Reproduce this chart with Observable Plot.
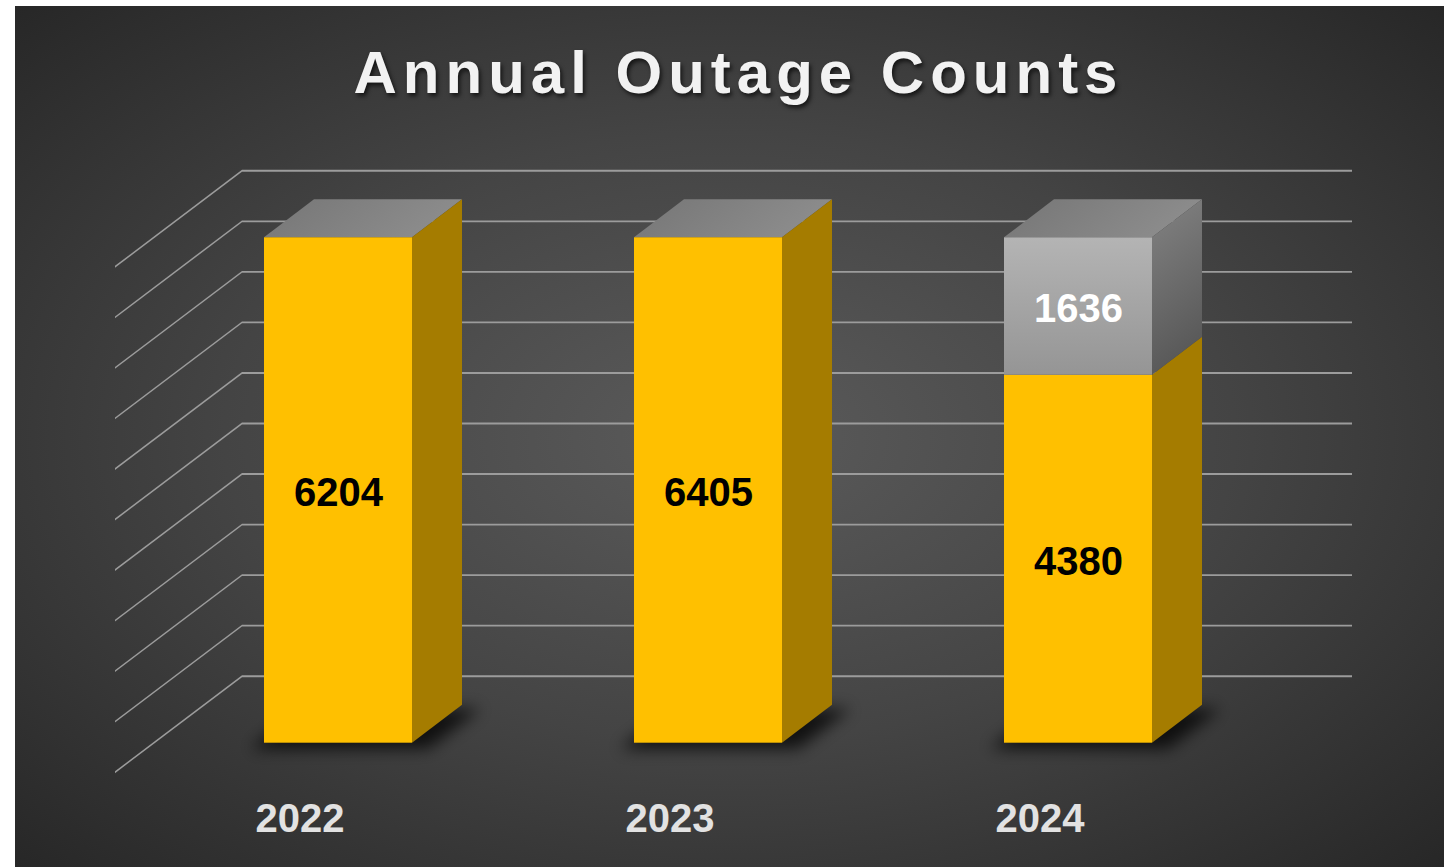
<!DOCTYPE html>
<html>
<head>
<meta charset="utf-8">
<script src="https://cdn.jsdelivr.net/npm/d3@7"></script>
<script src="https://cdn.jsdelivr.net/npm/@observablehq/plot@0.6"></script>
<style>
  html, body { margin: 0; padding: 0; background: #ffffff; }
  #panel {
    position: absolute; left: 15px; top: 6px; width: 1429px; height: 861px; overflow: hidden;
    background: radial-gradient(ellipse farthest-corner at 50% 50%, #5b5b5b 0%, #444444 50%, #272727 100%);
  }
  #title {
    position: absolute; top: 37px; left: 9px; width: 100%; text-align: center;
    font-family: "Liberation Sans", Arial, sans-serif; font-weight: bold; font-size: 60px;
    line-height: 60px; letter-spacing: 6px; color: #f2f2f2;
    text-shadow: 2px 3px 4px rgba(0,0,0,0.65);
  }
  #chart { position: absolute; left: 0; top: 120px; }
</style>
</head>
<body>
<div id="panel">
  <div id="title">Annual Outage Counts</div>
  <div id="chart"></div>
</div>
<script>
// ---- data ----
const years = ["2022", "2023", "2024"];
const outageCounts = [6204, 6405, 4380];
const additionalCounts = [0, 0, 1636];
const seriesNames = ["Outages", "Additional"];
const gridTicks = [0, 0.1, 0.2, 0.3, 0.4, 0.5, 0.6, 0.7, 0.8, 0.9, 1];

// ---- layout / style ----
const W = 1429, H = 741;
const mL = 138.4, mR = 180.6, mT = 111.3, mB = 124.3;
const padInner = 0.6, padOuter = 0.3;
const frameW = W - mL - mR;
const step = frameW / (years.length - padInner + 2 * padOuter);
const bw = step * (1 - padInner);
const depthX = 50, depthY = 38;          // bar depth (perspective)
const wallX = 88.6, wallY = 67;          // back wall offset
const floorX = 38.4, floorY = 29;        // floor front offset
const font = "'Liberation Sans', Arial, sans-serif";
const gridColor = "#9c9c9c";

const table = years.flatMap((year, i) => [
  {year, series: seriesNames[0], value: outageCounts[i]},
  {year, series: seriesNames[1], value: additionalCounts[i]}
]);
const isBase = d => d.series === seriesNames[0];
const stacked = o => Plot.stackY({x: "year", y: "value", z: "series", offset: "normalize", ...o});

const marks = [
  // back wall gridlines
  Plot.ruleY(gridTicks, {dx: wallX, dy: -wallY, stroke: gridColor, strokeWidth: 1.9}),
  // side wall diagonals
  Plot.ruleY(gridTicks, {dx: -floorX, dy: floorY, insetRight: frameW - (wallX + floorX), stroke: gridColor, strokeWidth: 1.9}),
  // floor shadow
  Plot.barY(years, {x: d => d, y1: () => 0, y2: () => 0, insetTop: -depthY + 4, insetBottom: -6, insetLeft: -14, insetRight: -16, fill: "black", fillOpacity: 0.75}),
  // top faces
  Plot.barY(years, {x: d => d, y1: () => 1, y2: () => 1, insetTop: -depthY, fill: "url(#gTop)"}),
  // front faces
  Plot.barY(table, stacked({fill: d => isBase(d) ? "#FFC000" : "url(#gFront)"})),
  // side faces
  Plot.barY(table, stacked({fill: d => isBase(d) ? "#A57C00" : "url(#gSide)", insetLeft: bw, insetRight: -depthX})),
  // value labels
  Plot.text(table, stacked({text: d => isBase(d) && d.value ? String(d.value) : "", dy: 3, fill: "#000000", fontSize: 40, fontWeight: "bold", fontFamily: font})),
  Plot.text(table, stacked({text: d => !isBase(d) && d.value ? String(d.value) : "", dy: 3, fill: "#ffffff", fontSize: 40, fontWeight: "bold", fontFamily: font})),
  // category labels on the floor front
  Plot.text(years, {x: d => d, text: d => d, frameAnchor: "bottom", dy: 89, dx: -floorX, fill: "#e2e2e2", fontSize: 40, fontWeight: "bold", fontFamily: font})
];

const chart = Plot.plot({
  width: W, height: H,
  marginLeft: mL, marginRight: mR, marginTop: mT, marginBottom: mB,
  style: {background: "transparent", overflow: "visible", fontFamily: font},
  x: {domain: years, paddingInner: padInner, paddingOuter: padOuter, axis: null},
  y: {domain: [0, 1], axis: null},
  color: {type: "identity"},
  marks
});
document.getElementById("chart").appendChild(chart);

// ---- 3D decoration: gradients, shadow blur, perspective skews ----
const svgEl = chart.tagName.toLowerCase() === "svg" ? chart : chart.querySelector("svg");
const svg = d3.select(svgEl);
const defs = svg.insert("defs", ":first-child");
function grad(id, x2, y2, stops) {
  const g = defs.append("linearGradient").attr("id", id).attr("x1", 0).attr("y1", 0).attr("x2", x2).attr("y2", y2);
  stops.forEach(([o, c]) => g.append("stop").attr("offset", o).attr("stop-color", c));
}
grad("gFront", 0, 1, [[0, "#b4b4b4"], [1, "#959595"]]);
grad("gSide", 0, 1, [[0, "#7a7a7a"], [1, "#5a5a5a"]]);
grad("gTop", 1, 0, [[0, "#7b7b7b"], [1, "#8b8b8b"]]);
const flt = defs.append("filter").attr("id", "softShadow")
  .attr("x", "-20%").attr("y", "-150%").attr("width", "140%").attr("height", "400%");
flt.append("feGaussianBlur").attr("stdDeviation", 8);

const groups = Array.from(svgEl.querySelectorAll(":scope > g")).slice(-marks.length);
const deg = r => r * 180 / Math.PI;

const tDiag = (wallY + floorY) / (wallX + floorX);
d3.select(groups[1]).selectAll("line").attr("transform", function () {
  const x0 = +this.getAttribute("x1");
  return `translate(0,${tDiag * x0}) skewY(${-deg(Math.atan(tDiag))})`;
});

const kTop = depthX / depthY;
function skewTop() {
  const yb = +this.getAttribute("y") + +this.getAttribute("height");
  return `translate(${kTop * yb},0) skewX(${-deg(Math.atan(kTop))})`;
}
d3.select(groups[2]).attr("filter", "url(#softShadow)").selectAll("rect").attr("transform", skewTop);
d3.select(groups[3]).selectAll("rect").attr("transform", skewTop);

const kSide = depthY / depthX;
d3.select(groups[5]).selectAll("rect").attr("transform", function () {
  const x0 = +this.getAttribute("x");
  return `translate(0,${kSide * x0}) skewY(${-deg(Math.atan(kSide))})`;
});
</script>
</body>
</html>
